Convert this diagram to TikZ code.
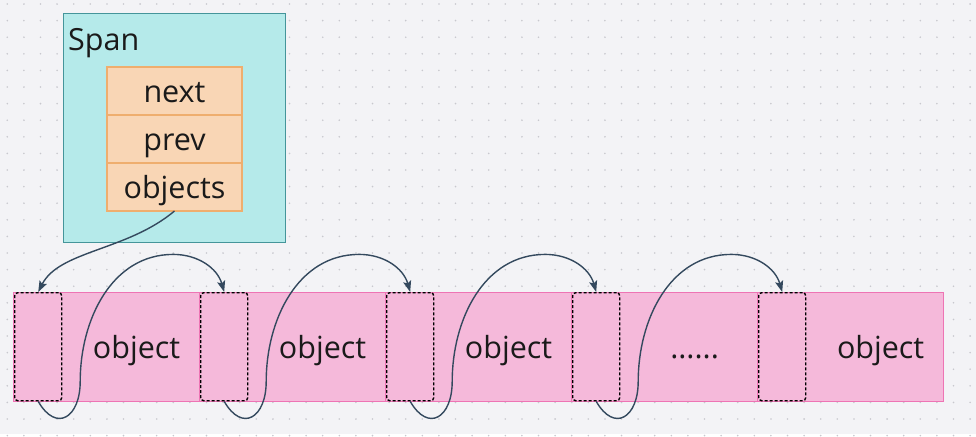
\documentclass[tikz,border=0pt]{standalone}
\usepackage{fontspec}
\setmainfont{Open Sans}
\usetikzlibrary{arrows.meta,positioning}
\definecolor{bgc}{HTML}{F3F3F6}
\definecolor{dotc}{HTML}{C8C8CE}
\definecolor{spanfill}{HTML}{B5EAEA}
\definecolor{spanline}{HTML}{45959A}
\definecolor{fieldfill}{HTML}{F9D6B5}
\definecolor{fieldline}{HTML}{EFAE6E}
\definecolor{segfill}{HTML}{F5B9DA}
\definecolor{segline}{HTML}{EE74B4}
\definecolor{linkc}{HTML}{34495E}
\definecolor{txtc}{HTML}{1A1A1A}
\newcommand{\moredots}{......}
\begin{document}
\begin{tikzpicture}[x=1pt, y=1pt, >={Stealth[length=11pt,width=8pt,inset=2pt]},
    big/.style={font=\fontsize{30.5}{32}\selectfont, text=txtc, inner sep=0pt},
    field/.style={draw=fieldline, fill=fieldfill, line width=1.4pt, minimum width=135pt, minimum height=48pt, inner sep=0pt, outer sep=0pt, text height=22pt, text depth=0pt, big},
    seg/.style={draw=segline, fill=segfill, line width=1.2pt, minimum width=186pt, minimum height=109pt, inner sep=0pt, anchor=north west},
    ptr/.style={draw=black, dash pattern=on 3pt off 2pt, line width=1.4pt, rounded corners=3pt, minimum width=47pt, minimum height=108pt, inner sep=0pt, anchor=north west},
    link/.style={->, draw=linkc, line width=1.4pt}]
    % Canvas with dot grid
    \fill[bgc] (0,0) rectangle (976,-434);
    \foreach \i in {0,...,58} {
        \foreach \j in {0,...,26} {
            \fill[dotc] ({7.3+16.6*\i}, {-4-16.6*\j}) circle (0.9);
        }
    }
    % Span struct
    \node[draw=spanline, fill=spanfill, line width=1.4pt, minimum width=222pt, minimum height=229pt, anchor=north west] (span) at (63,-13) {};
    \node[big, anchor=base west] (spanlbl) at (68,-50) {Span};
    \node[field] (next) at (174.5,-91) {next};
    \node[field, below=0pt of next] (prev) {prev};
    \node[field, below=0pt of prev] (objects) {objects};
    % Object slots
    \foreach \i/\t in {1/object, 2/object, 3/object, 4/\moredots, 5/object} {
        \node[seg] (seg\i) at ({13+186*(\i-1)}, -292) {};
        \node[ptr] (ptr\i) at ([xshift=1pt]seg\i.north west) {};
        \node[big, anchor=base] (txt\i) at ([xshift=30pt, yshift=-11.5pt]seg\i.center) {\t};
    }
    % Links
    \draw[link] (objects.south) to[out=-140, in=63, in looseness=0.75] (ptr1.north);
    \foreach \i/\j in {1/2, 2/3, 3/4, 4/5} {
        \draw[link] (ptr\i.south) to[out=-60, in=-90, looseness=2] ++(42,20)
            to[out=90, in=180] ++(93,127) to[out=0, in=106] (ptr\j.north);
    }
\end{tikzpicture}
\end{document}
